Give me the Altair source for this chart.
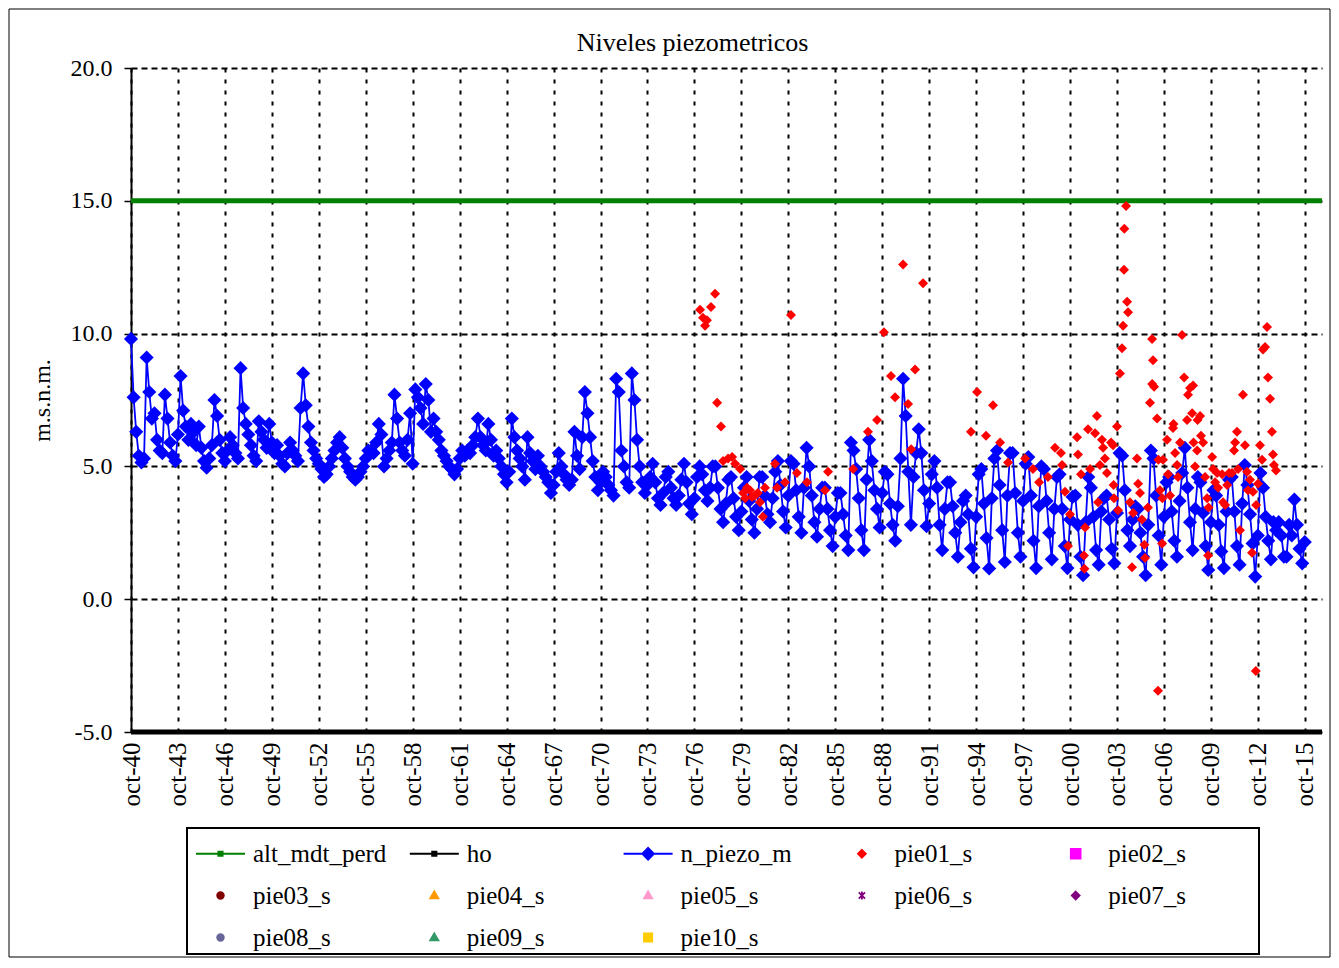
import altair as alt
import pandas as pd

# ---------------- data ----------------
# n_piezo_m : values per year, sampled Feb, Apr, Jun, Aug, Oct, Dec (1940: Oct, Dec)
blue_years = list(range(1940, 2016))
blue_rows = [
    [9.8, 7.6],
    [6.3, 5.4, 5.15, 5.3, 9.1, 7.8],
    [6.8, 7.0, 6.0, 5.6, 5.5, 7.7],
    [6.8, 5.9, 5.4, 5.2, 6.2, 8.4],
    [7.1, 6.5, 6.0, 6.6, 6.3, 5.8],
    [6.5, 5.7, 5.2, 4.95, 5.3, 5.8],
    [7.5, 6.9, 6.0, 5.5, 5.2, 5.6],
    [6.1, 5.8, 5.5, 5.3, 8.7, 7.2],
    [6.6, 6.2, 5.8, 5.4, 5.2, 6.7],
    [6.3, 6.0, 5.7, 6.6, 5.9, 5.5],
    [5.8, 5.4, 5.1, 5.0, 5.5, 5.9],
    [5.6, 5.4, 5.2, 7.2, 8.5, 7.3],
    [6.5, 5.9, 5.6, 5.3, 5.1, 4.9],
    [4.6, 4.7, 5.0, 5.3, 5.6, 5.9],
    [6.1, 5.7, 5.3, 5.0, 4.8, 4.6],
    [4.5, 4.6, 4.8, 5.0, 5.3, 5.6],
    [5.6, 5.5, 5.9, 6.6, 6.2, 5.0],
    [5.3, 5.6, 5.9, 7.7, 6.8, 5.9],
    [5.6, 5.4, 6.0, 7.0, 5.1, 7.9],
    [7.6, 7.2, 6.6, 8.1, 7.5, 6.3],
    [6.8, 6.3, 6.0, 5.6, 5.4, 5.2],
    [5.0, 4.9, 4.7, 4.9, 5.3, 5.6],
    [5.4, 5.6, 5.5, 5.8, 6.1, 6.8],
    [6.1, 5.8, 5.6, 6.6, 6.0, 5.4],
    [5.6, 5.3, 5.0, 4.7, 4.4, 4.8],
    [6.8, 6.1, 5.6, 5.3, 5.0, 4.5],
    [6.1, 5.5, 5.2, 4.9, 5.4, 5.0],
    [4.8, 4.6, 4.4, 4.0, 4.3, 4.8],
    [5.5, 5.0, 4.7, 4.5, 4.3, 4.5],
    [6.3, 5.4, 4.9, 6.1, 7.8, 7.0],
    [6.1, 5.2, 4.6, 4.1, 4.4, 4.8],
    [4.6, 4.3, 4.1, 3.9, 8.3, 7.8],
    [5.6, 5.0, 4.4, 4.2, 8.5, 7.5],
    [6.0, 5.0, 4.4, 4.0, 4.3, 4.6],
    [5.1, 4.4, 3.8, 3.55, 4.0, 4.6],
    [4.8, 4.2, 3.8, 3.55, 3.9, 4.5],
    [5.1, 4.4, 3.6, 3.2, 3.8, 4.6],
    [5.0, 4.7, 4.1, 3.7, 4.2, 5.0],
    [5.0, 4.2, 3.4, 2.9, 3.6, 4.5],
    [4.6, 3.8, 3.1, 2.6, 3.3, 4.2],
    [4.6, 3.7, 3.0, 2.5, 3.4, 4.6],
    [4.6, 3.9, 3.2, 2.9, 3.8, 4.8],
    [5.2, 4.3, 3.3, 2.7, 3.9, 5.2],
    [5.1, 4.1, 3.1, 2.5, 4.2, 5.7],
    [5.0, 3.9, 2.9, 2.35, 3.4, 4.2],
    [4.2, 3.4, 2.6, 2.0, 3.1, 4.0],
    [4.0, 3.2, 2.4, 1.85, 5.9, 5.6],
    [4.9, 3.8, 2.6, 1.85, 4.5, 6.0],
    [5.2, 4.1, 3.4, 2.7, 4.0, 4.8],
    [4.7, 3.6, 2.8, 2.2, 3.5, 5.3],
    [8.3, 6.9, 4.8, 2.8, 4.6, 5.5],
    [6.4, 5.5, 4.1, 2.75, 3.6, 4.7],
    [5.2, 4.2, 2.8, 1.85, 3.4, 4.4],
    [4.4, 3.5, 2.5, 1.6, 2.9, 3.7],
    [3.9, 3.2, 1.9, 1.2, 3.1, 4.7],
    [4.9, 3.6, 2.3, 1.16, 3.8, 5.3],
    [5.6, 4.3, 2.6, 1.4, 3.9, 5.5],
    [5.5, 4.0, 2.5, 1.6, 3.7, 5.1],
    [5.35, 3.9, 2.2, 1.17, 3.5, 5.0],
    [4.9, 3.7, 2.5, 1.5, 3.4, 4.6],
    [4.7, 3.4, 2.0, 1.17, 3.0, 3.85],
    [3.9, 2.8, 1.6, 0.9, 2.9, 4.6],
    [4.2, 3.1, 1.85, 1.3, 3.3, 3.8],
    [3.9, 3.0, 1.9, 1.35, 3.25, 5.5],
    [5.4, 4.1, 2.6, 2.0, 3.0, 3.5],
    [3.4, 2.5, 1.6, 0.9, 2.8, 5.6],
    [5.3, 3.9, 2.4, 1.3, 3.1, 4.4],
    [4.6, 3.3, 2.2, 1.6, 3.7, 4.75],
    [5.7, 4.2, 2.9, 1.85, 3.4, 4.6],
    [4.4, 3.25, 2.0, 1.1, 2.9, 4.1],
    [3.9, 2.8, 1.8, 1.17, 3.3, 4.5],
    [4.6, 3.3, 2.0, 1.3, 3.6, 5.05],
    [4.3, 3.2, 2.1, 0.85, 2.4, 4.75],
    [4.2, 3.1, 2.2, 1.5, 2.9, 2.6],
    [2.9, 2.4, 1.6, 1.6, 2.8, 2.4],
    [3.75, 2.8, 1.9, 1.35, 2.15],
]
blue_months = [2, 4, 6, 8, 10, 12]

# pie01_s : decimal year and level
red_t = [1977.11, 1977.3, 1977.43, 1977.55, 1977.81, 1978.07, 1978.2, 1978.45, 1978.58, 1978.9,
         1979.16, 1979.35, 1979.67, 1979.86, 1980.0, 1980.11, 1980.3, 1980.43, 1980.62, 1980.8,
         1980.94, 1981.13, 1981.26, 1981.9, 1982.03, 1982.54, 1982.92, 1983.3, 1983.94, 1985.09,
         1985.29, 1986.89, 1987.84, 1988.42, 1988.86, 1989.31, 1989.57, 1990.08, 1990.4, 1990.6,
         1990.85, 1991.36, 1994.42, 1994.81, 1995.38, 1995.83, 1996.28, 1996.79, 1997.88, 1998.38,
         1998.77, 1999.34, 1999.79, 2000.17, 2000.24, 2000.43, 2000.62, 2000.75, 2001.2, 2001.26,
         2001.45, 2001.64, 2001.67, 2001.71, 2001.9, 2002.03, 2002.35, 2002.47, 2002.54, 2002.66,
         2002.79, 2002.86, 2002.98, 2003.11, 2003.37, 2003.5, 2003.53, 2003.56, 2003.75, 2003.82,
         2003.94, 2004.07, 2004.14, 2004.2, 2004.22, 2004.33, 2004.4, 2004.46, 2004.58, 2004.71,
         2004.78, 2005.03, 2005.1, 2005.22, 2005.35, 2005.5, 2005.54, 2005.73, 2005.86, 2005.99,
         2006.0, 2006.05, 2006.12, 2006.31, 2006.37, 2006.4, 2006.5, 2006.63, 2006.65, 2006.69,
         2006.95, 2007.01, 2007.14, 2007.33, 2007.36, 2007.46, 2007.59, 2007.65, 2007.78, 2007.91,
         2008.04, 2008.23, 2008.29, 2008.42, 2008.55, 2008.61, 2008.64, 2008.74, 2008.87, 2008.9,
         2009.06, 2009.12, 2009.25, 2009.38, 2009.51, 2009.57, 2009.6, 2009.83, 2009.89, 2010.02,
         2010.15, 2010.21, 2010.47, 2010.53, 2010.66, 2010.79, 2010.91, 2011.1, 2011.23, 2011.3,
         2011.42, 2011.49, 2011.61, 2011.8, 2011.93, 2012.06, 2012.12, 2012.25, 2012.38, 2012.44,
         2012.62, 2012.64, 2012.76, 2012.89, 2013.02, 2013.08, 2013.21, 2013.34, 2013.4, 2013.53,
         2013.65, 2013.72, 2013.78, 2013.91]
red_v = [10.9, 10.6, 10.3, 10.5, 11.0, 11.5, 7.4, 6.5, 5.2, 5.3,
         5.35, 5.1, 4.9, 4.0, 3.8, 4.2, 4.1, 3.85, 3.9, 4.0,
         3.65, 3.1, 4.2, 5.1, 4.2, 4.4, 10.7, 4.75, 4.4, 4.1,
         4.8, 4.9, 6.3, 6.75, 10.05, 8.4, 7.6, 12.6, 7.35, 5.65,
         8.65, 11.9, 6.3, 7.8, 6.15, 7.3, 5.9, 5.15, 5.3, 4.9,
         4.4, 4.6, 5.7, 5.5, 5.05, 4.05, 2.0, 3.2, 6.1, 5.45,
         4.7, 1.65, 1.15, 2.7, 6.4, 4.9, 6.25, 6.9, 3.65, 5.05,
         6.0, 5.7, 5.3, 4.75, 5.9, 5.8, 4.3, 3.8, 6.5, 3.35,
         8.5, 9.45, 10.3, 12.4, 13.95, 14.8, 11.2, 10.8, 3.65, 1.2,
         3.25, 5.3, 4.35, 4.0, 3.0, 2.05, 1.55, 3.45, 7.4, 9.8,
         8.1, 9.0, 8.0, 6.8, -3.45, 5.25, 4.1, 2.1, 3.8, 5.25,
         6.0, 4.7, 3.9, 6.45, 6.6, 5.5, 5.05, 4.6, 5.9, 9.95,
         8.35, 6.75, 7.7, 7.95, 7.0, 8.05, 5.9, 5.0, 5.6, 6.75,
         6.9, 6.15, 5.9, 4.6, 3.8, 1.65, 3.45, 5.35, 4.9, 4.4,
         4.75, 4.2, 4.7, 3.65, 3.55, 4.3, 4.75, 4.75, 5.6, 5.9,
         6.3, 4.9, 2.6, 7.7, 5.8, 4.8, 4.1, 4.5, 1.75, 4.05,
         -2.7, 3.55, 4.35, 5.8, 5.25, 9.4, 9.5, 10.25, 8.35, 7.55,
         6.3, 5.45, 5.05, 4.85]

# constant reference levels
ref_names = ["alt_mdt_perd", "ho"]
ref_levels = [15.0, -5.0]
ref_span = [1940.75, 2016.85]

# legend entries
leg_names = ["alt_mdt_perd", "ho", "n_piezo_m", "pie01_s", "pie02_s",
             "pie03_s", "pie04_s", "pie05_s", "pie06_s", "pie07_s",
             "pie08_s", "pie09_s", "pie10_s"]
leg_colors = ["#008000", "#000000", "#0000FF", "#FF0000", "#FF00FF",
              "#800000", "#FF9900", "#FF99CC", "#800080", "#800080",
              "#666699", "#339966", "#FFCC00"]
sq_line = "M-2.5,0H2.5M-0.22,-0.22H0.22V0.22H-0.22Z"
dia_line = "M-2.5,0H2.5M0,-0.6L0.6,0L0,0.6L-0.6,0Z"
dia_s = "M0,-0.4L0.4,0L0,0.4L-0.4,0Z"
sq_b = "M-0.5,-0.5H0.5V0.5H-0.5Z"
sq_s = "M-0.42,-0.42H0.42V0.42H-0.42Z"
circ = "M-0.34,0A0.34,0.34,0,1,0,0.34,0A0.34,0.34,0,1,0,-0.34,0Z"
tri = "M0,-0.42L0.42,0.3L-0.42,0.3Z"
star = "M-0.32,-0.32L0.32,0.32M-0.32,0.32L0.32,-0.32M0,-0.42V0.42"
leg_shapes = [sq_line, sq_line, dia_line, dia_s, sq_b,
              circ, tri, tri, star, dia_s,
              circ, tri, sq_s]

# ---------------- tables ----------------
b_rows = []
for yr, vals in zip(blue_years, blue_rows):
    months = [10, 12] if yr == 1940 else blue_months[:len(vals)]
    for m, v in zip(months, vals):
        b_rows.append({"t": yr + (m - 1) / 12.0, "v": v})
df_blue = pd.DataFrame(b_rows)
df_red = pd.DataFrame({"t": red_t, "v": red_v})
df_ref = pd.DataFrame([{"serie": n, "t": t, "v": lv}
                       for n, lv in zip(ref_names, ref_levels) for t in ref_span])
df_leg = pd.DataFrame({"serie": leg_names})
df_one = pd.DataFrame({"a": [0]})

FONT = "Liberation Serif"
tick_vals = [1940.75 + 3 * i for i in range(26)]

x_enc = alt.X("t:Q",
              scale=alt.Scale(domain=[1940.75, 2016.85], nice=False, zero=False),
              axis=alt.Axis(values=tick_vals,
                            labelExpr="'oct-' + format(floor(datum.value) % 100, '02d')",
                            labelAngle=270, labelAlign="right", labelBaseline="middle",
                            labelPadding=10, ticks=False, tickSize=0, domain=False,
                            grid=True, gridColor="black", gridDash=[4, 7], gridWidth=2,
                            gridOpacity=1, labelFont=FONT, labelFontSize=25,
                            labelColor="black", labelOverlap=False, labelFlush=False),
              title=None)
y_enc = alt.Y("v:Q",
              scale=alt.Scale(domain=[-5, 20], nice=False, zero=False),
              axis=alt.Axis(values=[-5, 0, 5, 10, 15, 20],
                            labelExpr="(datum.value < 0 ? '-' : '') + format(abs(datum.value), '.1f')",
                            labelFont=FONT, labelFontSize=24, labelColor="black",
                            labelPadding=12, tickSize=7, tickColor="black", tickWidth=1.5,
                            domainColor="black", domainWidth=2, grid=True,
                            gridColor="black", gridDash=[6, 4], gridWidth=2, gridOpacity=1,
                            titleFont=FONT, titleFontSize=24, titleFontWeight="normal",
                            titleColor="black", titlePadding=16, labelFlush=False),
              title="m.s.n.m.")

# decorative outer frame and legend box
frame = alt.Chart(df_one).mark_rect(fillOpacity=0, stroke="black", strokeWidth=1).encode(
    x=alt.value(-122), x2=alt.value(1199), y=alt.value(-59), y2=alt.value(889))
legend_box = alt.Chart(df_one).mark_rect(fillOpacity=0, stroke="black", strokeWidth=2).encode(
    x=alt.value(56), x2=alt.value(1128), y=alt.value(760), y2=alt.value(886))

green = alt.Chart(df_ref).transform_filter("datum.serie == 'alt_mdt_perd'").mark_line(
    color="#008000", strokeWidth=5).encode(x=x_enc, y=y_enc)
black = alt.Chart(df_ref).transform_filter("datum.serie == 'ho'").mark_line(
    color="#000000", strokeWidth=5).encode(x=x_enc, y=y_enc)
blue_line = alt.Chart(df_blue).mark_line(color="#0000FF", strokeWidth=1.8).encode(x=x_enc, y=y_enc)
blue_pts = alt.Chart(df_blue).mark_point(shape="diamond", filled=True, size=200,
                                         color="#0000FF", opacity=1).encode(x=x_enc, y=y_enc)
red_pts = alt.Chart(df_red).mark_point(shape="diamond", filled=True, size=100,
                                       color="#FF0000", opacity=1).encode(x=x_enc, y=y_enc)

legend = alt.Legend(title=None, orient="none", legendX=77, legendY=773,
                    direction="horizontal", columns=5, gridAlign="all",
                    symbolSize=384, symbolStrokeWidth=1.8, symbolOpacity=1,
                    labelFont=FONT, labelFontSize=25, labelColor="black",
                    labelOffset=20, columnPadding=18.8, rowPadding=16, padding=0,
                    labelLimit=400)
leg_layer = alt.Chart(df_leg).transform_filter("false").mark_point(filled=True, opacity=1).encode(
    x=x_enc, y=y_enc,
    color=alt.Color("serie:N", scale=alt.Scale(domain=leg_names, range=leg_colors), legend=legend),
    stroke=alt.Stroke("serie:N", scale=alt.Scale(domain=leg_names, range=leg_colors), legend=legend),
    shape=alt.Shape("serie:N", scale=alt.Scale(domain=leg_names, range=leg_shapes), legend=legend),
)

chart = alt.layer(frame, legend_box, green, black, blue_line, blue_pts, red_pts, leg_layer).properties(
    width=1191, height=664,
    title=alt.Title("Niveles piezometricos", font=FONT, fontSize=26, fontWeight="normal",
                    color="black", anchor="middle", dx=-34, dy=59, offset=12),
    autosize=alt.AutoSizeParams(type="none"),
    padding={"left": 123, "top": 60, "right": 9, "bottom": 226},
).configure_view(stroke=None)

chart.save("out.html", embed_options={"renderer": "svg", "actions": False})
